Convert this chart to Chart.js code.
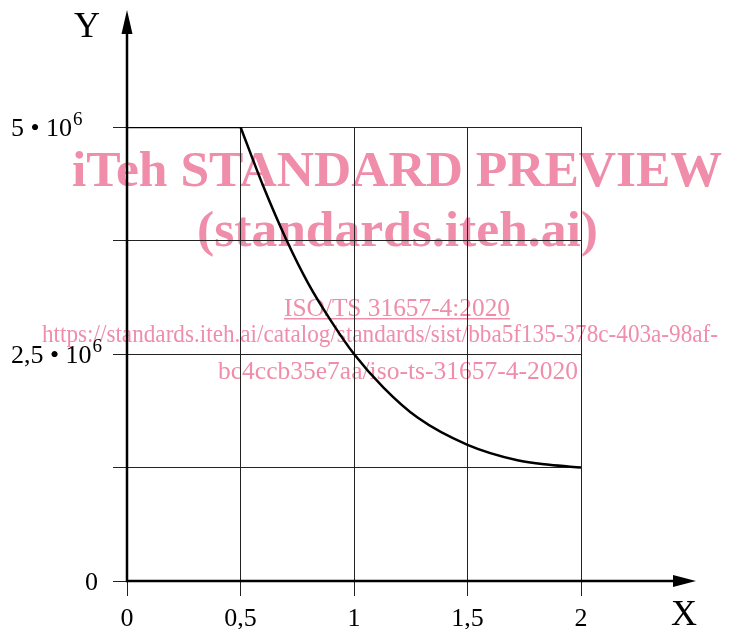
<!DOCTYPE html>
<html>
<head>
<meta charset="utf-8">
<script src="https://cdn.jsdelivr.net/npm/chart.js@4"></script>
<style>
  html, body { margin: 0; padding: 0; background: #fff; }
  #wrap { width: 753px; height: 629px; position: relative; }
</style>
</head>
<body>
<div id="wrap"><canvas id="chart"></canvas></div>
<script>
// flat part of the curve (Y = 5e6 up to X = 0.5)
const flatX = [0, 0.5];
const flatY = [5000000, 5000000];
// falling part
const curveX = [0.5, 0.6, 0.7, 0.8, 0.9, 1.0, 1.13, 1.28, 1.5, 1.72, 1.86, 2.0];
const curveY = [5000000, 4350000, 3770000, 3270000, 2860000, 2500000, 2130000, 1800000, 1500000, 1330000, 1280000, 1250000];

const xTickValues = [0, 0.5, 1, 1.5, 2];
const xTickLabels = ['0', '0,5', '1', '1,5', '2'];
const yGridValues = [0, 1250000, 2500000, 3750000, 5000000];
const yLabelValues = [0, 2500000, 5000000];
const yLabelTexts = ['0', '2,5', '5'];
const yExponent = '6';

const PINK = 'rgb(239,141,171)';
const FONT = '"Liberation Serif", serif';

// preview stamp over the figure
const watermark = [
  { text: 'iTeh STANDARD PREVIEW', bold: true, size: 51, x: 72, w: 650, y: 186 },
  { text: '(standards.iteh.ai)', bold: true, size: 51, x: 197, w: 401, y: 246 },
  { text: 'ISO/TS 31657-4:2020', bold: false, size: 26, x: 284, w: 226, y: 316, underline: true },
  { text: 'https://standards.iteh.ai/catalog/standards/sist/bba5f135-378c-403a-98af-', bold: false, size: 26, x: 42, w: 676, y: 342 },
  { text: 'bc4ccb35e7aa/iso-ts-31657-4-2020', bold: false, size: 26, x: 218, w: 360, y: 379 }
];

const decorations = {
  id: 'decorations',
  beforeDraw(chart) {
    const ctx = chart.ctx;
    ctx.save();
    ctx.fillStyle = PINK;
    ctx.textAlign = 'left';
    ctx.textBaseline = 'alphabetic';
    watermark.forEach(line => {
      ctx.font = (line.bold ? 'bold ' : '') + line.size + 'px ' + FONT;
      const m = ctx.measureText(line.text).width;
      ctx.save();
      ctx.translate(line.x, line.y);
      ctx.scale(line.w / m, 1);
      ctx.fillText(line.text, 0, 0);
      ctx.restore();
      if (line.underline) ctx.fillRect(line.x, line.y + 2, line.w, 1.5);
    });
    ctx.restore();
  },
  afterDraw(chart) {
    const { ctx, scales: { x, y } } = chart;
    const x0 = x.getPixelForValue(0);
    const y0 = y.getPixelForValue(0);
    ctx.save();
    ctx.strokeStyle = '#000';
    ctx.fillStyle = '#000';
    ctx.lineWidth = 2.5;

    // Y axis with arrow
    ctx.beginPath();
    ctx.moveTo(x0, y0 + 1);
    ctx.lineTo(x0, 30);
    ctx.stroke();
    ctx.beginPath();
    ctx.moveTo(x0, 10);
    ctx.lineTo(x0 - 5.5, 34);
    ctx.lineTo(x0 + 5.5, 34);
    ctx.closePath();
    ctx.fill();

    // X axis with arrow
    ctx.beginPath();
    ctx.moveTo(x0 - 1, y0);
    ctx.lineTo(678, y0);
    ctx.stroke();
    ctx.beginPath();
    ctx.moveTo(696, y0);
    ctx.lineTo(673, y0 - 6);
    ctx.lineTo(673, y0 + 6);
    ctx.closePath();
    ctx.fill();

    // axis names
    ctx.font = '36px ' + FONT;
    ctx.textAlign = 'center';
    ctx.textBaseline = 'alphabetic';
    ctx.fillText('Y', 87, 37);
    ctx.fillText('X', 684, 625);

    // Y labels with powers of ten
    yLabelValues.forEach((v, i) => {
      const py = y.getPixelForValue(v) + 9;
      ctx.font = '26px ' + FONT;
      if (v === 0) {
        ctx.textAlign = 'right';
        ctx.fillText(yLabelTexts[i], 98, py);
        return;
      }
      ctx.textAlign = 'left';
      const base = yLabelTexts[i] + ' \u2022 10';
      ctx.fillText(base, 11, py);
      const w = ctx.measureText(base).width;
      ctx.font = '19px ' + FONT;
      ctx.fillText(yExponent, 11 + w + 1, py - 11);
    });
    ctx.restore();
  }
};

new Chart(document.getElementById('chart'), {
  type: 'scatter',
  data: {
    datasets: [
      {
        data: flatX.map((v, i) => ({ x: v, y: flatY[i] })),
        showLine: true,
        borderColor: '#000',
        borderWidth: 2.5,
        pointRadius: 0
      },
      {
        data: curveX.map((v, i) => ({ x: v, y: curveY[i] })),
        showLine: true,
        cubicInterpolationMode: 'monotone',
        borderColor: '#000',
        borderWidth: 2.5,
        pointRadius: 0
      }
    ]
  },
  options: {
    responsive: true,
    maintainAspectRatio: false,
    animation: false,
    layout: { padding: { left: 113, right: 172, top: 127, bottom: -13 } },
    plugins: { legend: { display: false }, tooltip: { enabled: false } },
    scales: {
      x: {
        type: 'linear',
        min: 0,
        max: 2,
        afterBuildTicks: s => { s.ticks = xTickValues.map(v => ({ value: v })); },
        grid: { color: '#222', lineWidth: 1, tickLength: 15 },
        border: { display: false },
        ticks: {
          color: '#000',
          font: { family: FONT, size: 26, lineHeight: 1 },
          padding: 10,
          maxRotation: 0,
          autoSkip: false,
          callback: (v, i) => xTickLabels[i]
        }
      },
      y: {
        type: 'linear',
        min: 0,
        max: 5000000,
        afterBuildTicks: s => { s.ticks = yGridValues.map(v => ({ value: v })); },
        grid: { color: '#222', lineWidth: 1, tickLength: 14 },
        border: { display: false },
        ticks: { display: false }
      }
    }
  },
  plugins: [decorations]
});
</script>
</body>
</html>
